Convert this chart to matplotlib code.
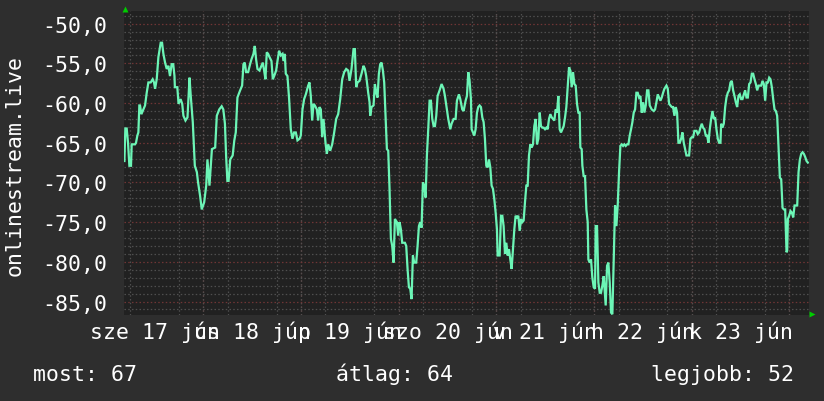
import matplotlib
matplotlib.use("Agg")
import matplotlib.pyplot as plt
from matplotlib.ticker import MultipleLocator, FuncFormatter

# ---- data (hours since 2020-06-17 00:00, signal value) ----
hours = [
    4.6, 4.83, 5.16, 5.49, 5.82, 6.22, 6.39, 7.21, 7.45, 7.78, 8.03, 8.27, 8.44, 8.77, 9.26, 9.67,
    10.08, 10.49, 11.06, 11.55, 11.88, 12.13, 12.54, 12.95, 13.52, 13.85, 14.18, 14.59, 15.0, 15.4,
    15.8, 16.2, 16.6, 16.9, 17.0, 17.6, 17.9, 18.4, 18.8, 19.1, 19.6, 20.1, 20.6, 20.9, 21.4, 21.9,
    22.4, 22.7, 23.2, 23.6, 24.2, 24.7, 25.0, 25.5, 26.1, 26.9, 27.3, 27.9, 28.5, 28.9, 29.3, 29.6,
    29.9, 30.2, 30.6, 31.2, 31.6, 31.96, 32.37,
    33.03, 33.52, 33.85, 34.17, 34.5, 34.99, 35.48, 35.81, 36.3, 36.63, 36.96, 37.29, 37.78, 38.11,
    38.6, 38.93, 39.25, 39.58, 39.91, 40.24, 40.73, 41.06, 41.39, 41.88, 42.21, 42.62, 43.03, 43.44,
    43.68, 44.01, 44.25, 44.66, 45.07, 45.48, 45.89, 46.3, 46.71, 47.12, 47.62, 47.94, 48.35, 48.76,
    49.17, 49.75, 50.07, 50.4, 50.73, 51.06, 51.39, 51.88, 52.21, 52.53, 52.86, 53.19, 53.52, 54.01,
    54.34, 54.67, 55.16, 55.65, 56.14, 56.63, 57.12, 57.62, 58.11, 58.6, 59.09, 59.58, 59.91,
    60.4, 60.89, 61.22, 61.55, 61.88, 62.37, 62.86, 63.35, 63.68, 64.01, 64.5, 64.83, 64.99, 65.32,
    65.81, 66.14, 66.47, 66.79, 67.12, 67.45, 67.78, 68.11, 68.43, 68.76, 69.09, 69.42, 69.74, 70.07,
    70.4, 70.73, 71.06, 71.55, 71.87, 72.2, 72.53, 72.86, 73.19, 73.52, 73.84, 74.17, 74.5, 74.83,
    75.15, 75.48, 75.81, 76.3, 76.63, 76.96, 77.28, 77.61, 77.94, 78.27, 78.6, 78.92, 79.25, 79.58,
    79.91, 80.24, 80.57, 80.89, 81.22, 81.55, 82.04, 82.53, 83.02, 83.35, 83.84, 84.17, 84.66, 84.99,
    85.48, 85.97, 86.3, 86.79, 87.12, 87.61,
    87.94, 88.43, 88.76, 89.09, 89.41, 89.74, 89.91, 90.23, 90.56, 90.89, 91.22, 91.54, 91.87, 92.2,
    92.53, 92.86, 93.18, 93.51, 93.84, 94.17, 94.5, 94.82, 95.15, 95.48, 95.81, 96.13, 96.3, 96.79,
    97.12, 97.45, 97.77, 98.1, 98.43, 98.76, 99.09, 99.41, 99.74, 100.07, 100.4, 100.72, 101.05,
    101.38, 101.71, 102.04, 102.36, 102.69, 103.02, 103.35, 103.68, 104.0, 104.33, 104.66, 104.99,
    105.31, 105.64, 105.97, 106.3, 106.63, 106.95, 107.28, 107.61, 107.94, 108.27, 108.59, 108.92,
    109.25, 109.58, 109.9, 110.23, 110.56, 110.89, 111.22, 111.54, 111.87, 112.2, 112.53, 112.86,
    113.18, 113.51, 113.84, 114.17, 114.5, 114.82, 115.15, 115.48, 115.8, 116.13, 116.46, 116.62,
    116.95, 117.12, 117.44, 117.77, 118.1, 118.43, 118.59, 118.92, 119.25, 119.57, 119.9, 120.23,
    120.39, 120.72, 121.05, 121.38, 121.7, 122.03, 122.36, 122.69, 122.85, 123.18, 123.51, 123.84,
    124.16, 124.49, 124.82, 125.15, 125.48, 125.8, 126.13, 126.46, 126.79, 127.12, 127.44, 127.77,
    128.1, 128.43, 128.75, 129.08, 129.41, 129.74, 130.07, 130.39, 130.72, 131.05, 131.38, 131.7,
    132.03, 132.36, 132.69, 133.02, 133.34, 133.67, 134.16, 134.66, 134.98, 135.31, 135.64, 135.97,
    136.3, 136.62, 136.95, 137.28, 137.77, 138.1, 138.43, 138.75, 139.08, 139.41, 139.74, 140.07,
    140.39, 140.72, 141.05, 141.38, 141.7, 142.03, 142.36, 142.69, 143.02, 143.34, 143.67, 144.0,
    144.33, 144.65, 145.15, 145.47, 145.8, 146.13, 146.46, 146.78, 147.11, 147.44, 147.77, 148.1,
    148.42, 148.75, 149.08, 149.41, 149.74, 150.06, 150.39, 150.72, 151.05, 151.21, 151.54, 151.87,
    152.2, 152.52, 152.85, 153.18, 153.51, 153.83, 154.16, 154.49, 154.82, 155.15, 155.47, 155.8,
    156.13, 156.46, 156.79, 157.11, 157.44, 157.77, 158.1, 158.43, 158.75, 159.08, 159.41, 159.74,
    160.07, 160.39, 160.72, 161.05, 161.38, 161.7, 162.03, 162.36, 162.69, 163.02, 163.34, 163.67,
    164.0, 164.33, 164.66, 164.98, 165.31, 165.64, 165.97, 166.3, 166.62, 166.95, 167.28, 167.44,
    167.61, 167.93, 168.26, 168.59, 168.92, 169.25, 169.57, 169.9, 170.23, 170.56, 170.89, 171.21,
    171.54, 171.87, 172.2, 172.52,
]
values = [
    -67.3, -63.2, -63.2, -65.0, -67.9, -67.9, -65.2, -65.2, -65.0, -64.1, -63.7, -60.3, -60.3, -61.4, -60.8, -60.3,
    -58.7, -57.4, -57.4, -57.0, -57.4, -58.2, -57.0, -54.2, -52.4, -52.4, -53.8, -54.9, -55.7, -55.3,
    -56.6, -55.1, -55.1, -56.6, -58.0, -58.0, -60.1, -59.5, -60.1, -61.6, -62.2, -61.8, -56.8, -59.1, -62.4, -67.9,
    -68.7, -70.0, -71.7, -73.4, -72.5, -70.4, -67.1, -70.4, -65.8, -65.6, -61.6, -60.8, -60.4, -60.8, -62.6, -66.8,
    -69.8, -69.8, -67.1, -66.6, -64.7, -63.7, -59.3,
    -58.4, -57.8, -55.1, -54.9, -56.1, -56.1, -55.1, -54.5, -53.8, -52.8, -54.5, -55.7, -55.9, -55.5,
    -54.9, -55.9, -57.0, -53.6, -53.8, -54.2, -54.7, -57.0, -56.6, -55.9, -54.7, -53.4, -54.0, -53.8,
    -54.7, -53.8, -56.3, -56.6, -59.5, -63.3, -64.5, -63.7, -63.7, -64.7, -64.5, -64.1, -60.8, -59.5,
    -58.9, -57.8, -57.4, -59.1, -62.2, -60.1, -60.3, -60.8, -62.2, -60.5, -60.8, -64.3, -62.0, -65.0,
    -66.4, -65.2, -66.0, -65.2, -63.7, -62.0, -61.4, -59.5, -57.0, -56.1, -55.7, -55.9, -57.2,
    -55.7, -53.2, -53.2, -58.0, -57.4, -57.2, -56.3, -55.3, -55.7, -56.6, -58.7, -59.9, -61.6, -60.5,
    -60.3, -57.6, -58.7, -59.3, -56.3, -55.1, -54.9, -55.9, -57.4, -61.6, -65.8, -66.0, -70.8, -77.1,
    -78.0, -80.1, -74.6, -75.0, -76.7, -75.0, -75.9, -77.6, -77.6, -77.6, -78.0, -80.9, -83.2, -83.4,
    -84.7, -79.2, -80.1, -80.1, -78.0, -75.5, -75.0, -75.7, -70.0, -70.4, -71.9, -66.6, -63.3, -59.7,
    -59.7, -62.0, -62.9, -62.9, -61.6, -59.1, -58.4, -57.6, -58.2, -59.1, -60.8, -62.0, -63.3, -62.6,
    -62.0, -62.0, -59.7, -58.9, -59.5, -60.8,
    -61.0, -59.7, -59.1, -56.1, -57.2, -59.5, -63.3, -63.7, -64.1, -63.3, -61.2, -60.5, -60.3, -60.5,
    -61.8, -62.4, -64.5, -67.9, -68.1, -67.1, -68.1, -70.4, -70.8, -72.1, -73.8, -75.9, -79.2, -79.2,
    -74.2, -74.2, -75.5, -79.0, -77.6, -79.2, -78.4, -79.7, -80.9, -78.4, -75.9, -74.2, -74.4,
    -74.2, -76.1, -74.6, -75.0, -74.8, -72.5, -70.4, -70.4, -66.6, -65.2, -65.6, -65.2,
    -62.9, -62.0, -65.2, -64.5, -61.2, -62.9, -63.1, -63.1, -63.3, -63.1, -63.3, -62.0,
    -61.4, -61.8, -62.0, -62.2, -60.8, -61.2, -59.1, -63.3, -63.7, -63.3, -62.9, -61.8,
    -60.5, -58.0, -55.5, -55.9, -58.0, -56.1, -57.6, -57.8, -60.1, -61.2, -61.2, -65.6,
    -65.8, -67.9, -69.2, -69.2, -73.4, -75.0, -79.7, -80.1, -79.7, -82.0, -83.2, -83.4,
    -75.5, -75.5, -82.6, -83.9, -83.9, -83.0, -81.8, -84.3, -85.5, -80.5, -80.1, -82.6,
    -86.4, -86.6, -79.7, -72.9, -75.5, -72.9, -68.7, -65.4, -65.2, -65.4, -65.2, -65.4,
    -65.2, -65.2, -64.1, -63.3, -62.4, -61.2, -60.8, -58.7, -58.7, -59.3, -59.1, -61.2,
    -59.9, -61.2, -60.3, -58.4, -58.4, -60.3, -60.8, -61.0, -60.8, -59.9, -58.9, -59.3,
    -59.7, -59.3, -58.7, -58.2, -57.8, -58.2, -60.1, -60.3, -60.5, -60.5, -61.6, -60.5,
    -61.2, -65.0, -65.0, -64.5, -63.7, -65.0, -65.8, -66.6, -66.6, -66.6, -64.5, -64.3,
    -64.3, -63.5, -63.5, -63.9, -63.7, -63.1, -62.6, -63.1, -63.3, -64.1, -64.1, -65.0,
    -63.3, -62.0, -61.0, -62.0, -61.8, -63.3, -64.5, -65.0, -65.0, -62.6, -63.1, -62.6,
    -60.5, -59.3, -58.7, -58.4, -57.4, -57.2, -58.4, -59.1, -59.9, -60.5, -59.1, -58.9,
    -59.5, -59.5, -58.9, -58.4, -59.3, -59.3, -57.6, -57.4, -56.3, -56.3, -57.0, -57.6,
    -58.4, -57.8, -57.8, -57.8, -57.2, -57.6, -59.7, -57.4, -57.4, -56.8, -57.0, -58.0,
    -59.5, -60.8, -61.0, -61.6, -65.4, -69.4, -69.6, -73.2, -73.4, -73.4, -78.8, -78.6,
    -74.6, -74.2, -73.6, -73.8, -74.4, -72.9, -72.9, -72.9, -68.7, -67.1, -66.4, -66.2,
    -66.4, -66.8, -67.3, -67.5,
]

day_label_hours = [12, 36, 60, 84, 108, 132, 156]
day_labels = ["sze 17 jún", "cs 18 jún", "p 19 jún", "szo 20 jún",
              "v 21 jún", "h 22 jún", "k 23 jún"]
midnight_hours = [24, 48, 72, 96, 120, 144, 168]
y_label = "onlinestream.live"
legend_items = ["most: 67", "átlag: 64", "legjobb: 52"]

# ---- style ----
FONT = "DejaVu Sans Mono"
FS = 15.5
BG = "#2e2e2e"
PLOT_BG = "#212121"
LINE = "#6cf5b6"
MINOR = "#4f4f4f"
MAJOR = "#703535"
TXT = "#ffffff"

W, H = 824, 402
fig = plt.figure(figsize=(W / 100, H / 100), dpi=100, facecolor=BG)
left, right, top, bottom = 124, 809, 12, 316
ax = fig.add_axes([left / W, (H - bottom) / H, (right - left) / W, (bottom - top) / H])
ax.set_facecolor(PLOT_BG)

ax.set_xlim(4.5, 172.8)
ax.set_ylim(-86.7, -48.4)

ax.set_xticks(day_label_hours)
ax.set_xticklabels(day_labels)
ax.xaxis.set_minor_locator(MultipleLocator(6))
ax.yaxis.set_major_locator(MultipleLocator(5))
ax.yaxis.set_minor_locator(MultipleLocator(1))
ax.yaxis.set_major_formatter(FuncFormatter(lambda v, p: f"{v:.1f}".replace(".", ",")))

dash = (0, (1.2, 1.8))
ax.grid(which="minor", axis="both", color=MINOR, lw=0.9, ls=dash)
ax.grid(which="major", axis="y", color=MAJOR, lw=0.9, ls=dash)
ax.grid(which="major", axis="x", visible=False)
for m in midnight_hours:
    ax.axvline(m, color=MAJOR, lw=0.9, ls=dash, zorder=0.5)
ax.set_axisbelow(True)

ax.tick_params(which="both", length=0, colors=TXT)
ax.tick_params(axis="x", pad=4, labelsize=FS)
ax.tick_params(axis="y", pad=12, labelsize=FS)
for lab in ax.get_xticklabels() + ax.get_yticklabels():
    lab.set_fontfamily(FONT)
for s in ax.spines.values():
    s.set_visible(False)

ax.plot(hours, values, color=LINE, lw=1.6, solid_joinstyle="miter", zorder=3)

# axis arrows
ax.plot([0.002], [1.007], marker="^", ms=5, color="#00cc00", transform=ax.transAxes,
        clip_on=False, mec="none")
ax.plot([1.005], [0.003], marker=">", ms=5, color="#00cc00", transform=ax.transAxes,
        clip_on=False, mec="none")

fig.text(15 / W, 1 - 165 / H, y_label, rotation=90, ha="center", va="center",
         color=TXT, fontsize=FS, fontfamily=FONT)

legend_x = [33, 336, 651]
for x, t in zip(legend_x, legend_items):
    fig.text(x / W, 1 - 381 / H, t, ha="left", va="baseline", color=TXT,
             fontsize=FS, fontfamily=FONT)

fig.savefig("out.png", dpi=100, facecolor=BG)
